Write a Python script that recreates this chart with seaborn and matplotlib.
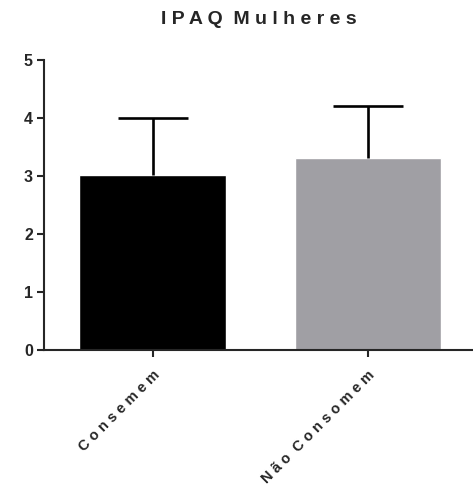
import matplotlib
matplotlib.use('Agg')
import matplotlib.pyplot as plt
import seaborn as sns

# dados
grupos = ['Consemem', 'Não Consomem']
medias = [3.02, 3.31]
erros = [0.98, 0.90]
cores = ['#000000', '#a09fa4']
titulo = 'IPAQ Mulheres'


def espacar(txt):
    # imita o espacamento largo entre letras do original
    return ' '.join(txt).replace('   ', '  ')


sns.set_style('ticks')
plt.rcParams['font.family'] = ['Liberation Sans', 'DejaVu Sans']
plt.rcParams['font.weight'] = 'bold'

fig = plt.figure(figsize=(4.73, 4.95), dpi=100)
ax = fig.add_axes([0.093, 0.293, 0.907, 0.586])

sns.barplot(x=grupos, y=medias, hue=grupos, palette=cores, width=0.68,
            legend=False, ax=ax, saturation=1)

# barras de erro so para cima
eb = ax.errorbar(range(len(grupos)), medias, yerr=[[0] * len(erros), erros],
                 fmt='none', ecolor='black', elinewidth=1.9, capsize=25,
                 capthick=1.9, zorder=5)
eb[1][0].set_visible(False)  # esconde o cap de baixo

ax.set_ylim(0, 5)
ax.set_xlim(-0.505, 1.49)
ax.set_yticks(range(0, 6))
ax.tick_params(axis='y', labelsize=11.5, width=1.5, length=5, pad=3)
ax.tick_params(axis='x', width=1.5, length=5, pad=8)
ax.set_xticks(range(len(grupos)))
ax.set_xticklabels([espacar(g) for g in grupos], rotation=45, ha='right',
                   rotation_mode='anchor', fontsize=10.5, fontweight='bold')
for lbl in ax.get_yticklabels():
    lbl.set_fontweight('bold')

sns.despine(ax=ax)
ax.spines['left'].set_linewidth(1.5)
ax.spines['bottom'].set_linewidth(1.5)

ax.set_title(espacar(titulo), fontsize=14, fontweight='bold', pad=26)

fig.savefig('out.png', dpi=100)
